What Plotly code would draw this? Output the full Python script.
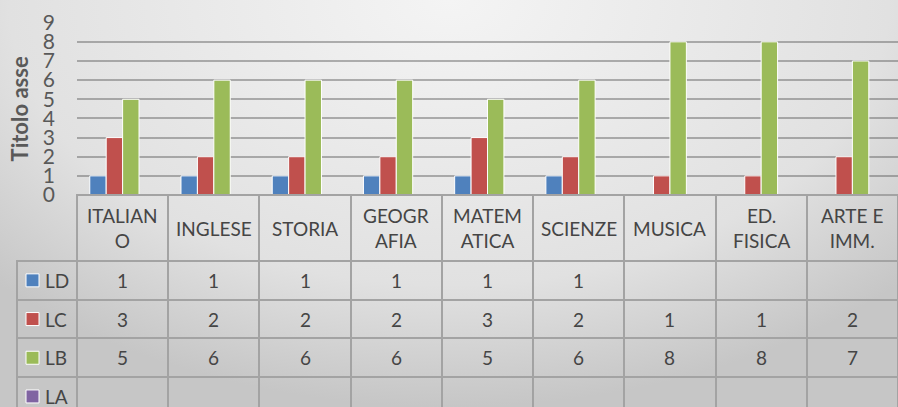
import plotly.graph_objects as go

# -------------------------
# DATA
# -------------------------
materie = ["ITALIANO", "INGLESE", "STORIA", "GEOGRAFIA", "MATEMATICA",
           "SCIENZE", "MUSICA", "ED. FISICA", "ARTE E IMM."]
intestazioni = ["ITALIAN<br>O", "INGLESE", "STORIA", "GEOGR<br>AFIA", "MATEM<br>ATICA",
                "SCIENZE", "MUSICA", "ED.<br>FISICA", "ARTE E<br>IMM."]

ld = [1, 1, 1, 1, 1, 1, None, None, None]
lc = [3, 2, 2, 2, 3, 2, 1, 1, 2]
lb = [5, 6, 6, 6, 5, 6, 8, 8, 7]
la = [None, None, None, None, None, None, None, None, None]

serie = ["LD", "LC", "LB", "LA"]
valori = [ld, lc, lb, la]
colori = ["#4f81bd", "#c0504d", "#9bbb59", "#8064a2"]

TXT = "#595959"
TXT_TAB = "#454545"
FONT = "Lato, 'Open Sans', sans-serif"

W, H = 898, 407
x0 = 77 / W              # left edge of plot area / first category column
y_bot = (H - 195) / H    # bottom of plot area = top of table
y_top = (H - 22.7) / H
HEAD_H = 66
ROW_H = 38.7


def riga_y(k):
    # paper y of the centre of table row k
    return (H - (195 + HEAD_H + ROW_H * (k + 0.5))) / H


fig = go.Figure()

# -------------------------
# BACKGROUND (radial grey gradient)
# -------------------------
fig.add_trace(go.Scatter(
    x=[-0.2, 1.2, 1.2, -0.2, -0.2], y=[0, 0, 2, 2, 0],
    mode="lines", line=dict(width=0), fill="toself",
    fillgradient=dict(type="radial",
                      colorscale=[[0, "#f4f4f4"], [0.7, "#e1e1e1"], [1, "#c6c6c6"]]),
    hoverinfo="skip", showlegend=False, xaxis="x", yaxis="y",
))

# -------------------------
# BARS
# -------------------------
for nome, vals, col in zip(serie, valori, colori):
    fig.add_trace(go.Bar(
        x=materie, y=vals, name=nome, marker_color=col,
        marker_line=dict(color="white", width=1),
        xaxis="x2", yaxis="y2", showlegend=False,
    ))

# -------------------------
# DATA TABLE (grid)
# -------------------------
linea = "#a3a3a3"
fig.add_trace(go.Table(
    domain=dict(x=[17 / W, 1], y=[0, y_bot]),
    columnwidth=[60] + [91.2] * len(materie),
    header=dict(
        values=[""] * (len(materie) + 1),
        fill_color="rgba(0,0,0,0)",
        line=dict(color=["rgba(0,0,0,0)"] + [linea] * len(materie), width=2),
        height=HEAD_H,
    ),
    cells=dict(
        values=[[""] * len(serie)] * (len(materie) + 1),
        fill_color="rgba(0,0,0,0)",
        line=dict(color=linea, width=2),
        height=ROW_H,
    ),
))

# column headers, centred under each category
for m, lab in zip(materie, intestazioni):
    fig.add_annotation(
        x=m, xref="x2", y=(H - 195 - HEAD_H / 2) / H, yref="paper",
        yanchor="middle", text=lab, showarrow=False, align="center", valign="middle",
        font=dict(family=FONT, size=19, color=TXT_TAB),
    )

# cell values
for k, vals in enumerate(valori):
    for m, v in zip(materie, vals):
        if v is None:
            continue
        fig.add_annotation(
            x=m, xref="x2", y=riga_y(k), yref="paper", yanchor="middle",
            text=str(v), showarrow=False,
            font=dict(family=FONT, size=19, color=TXT_TAB),
        )

# legend keys + series names in the first column
for k, (s, col) in enumerate(zip(serie, colori)):
    yc = riga_y(k)
    fig.add_shape(
        type="rect", xref="paper", yref="paper",
        x0=26 / W, x1=39 / W, y0=yc - 6.5 / H, y1=yc + 6.5 / H,
        fillcolor=col, line=dict(color="white", width=1),
    )
    fig.add_annotation(
        x=43 / W, xref="paper", y=yc, yref="paper", xanchor="left", yanchor="middle",
        text=s, showarrow=False,
        font=dict(family=FONT, size=19, color=TXT_TAB),
    )

fig.update_layout(
    width=W, height=H,
    margin=dict(l=0, r=0, t=0, b=0),
    paper_bgcolor="#dadada",
    plot_bgcolor="rgba(0,0,0,0)",
    barmode="group", bargap=0.28, bargroupgap=0,
    xaxis=dict(domain=[0, 1], range=[0, 1], visible=False, fixedrange=True),
    yaxis=dict(domain=[0, 1], range=[0, 1], visible=False, fixedrange=True),
    xaxis2=dict(domain=[x0, 1], anchor="y2", showticklabels=False, showgrid=False,
                ticks="", showline=False, automargin=False),
    yaxis2=dict(
        domain=[y_bot, y_top], anchor="x2", range=[0, 9], autorange=False,
        automargin=False,
        tickvals=list(range(10)), showgrid=True,
        gridcolor="rgba(90,90,90,0.45)", gridwidth=2,
        zeroline=True, zerolinecolor="#595959", zerolinewidth=2,
        tickfont=dict(family=FONT, size=21, color=TXT),
        ticklabelstandoff=21,
        title=dict(text="<b>Titolo asse</b>", font=dict(family=FONT, size=22, color=TXT),
                   standoff=8),
    ),
)

fig.write_html(
    "out.html",
    config={"displayModeBar": False},
    post_script="document.body.style.margin='0px'; document.body.style.overflow='hidden';",
)
